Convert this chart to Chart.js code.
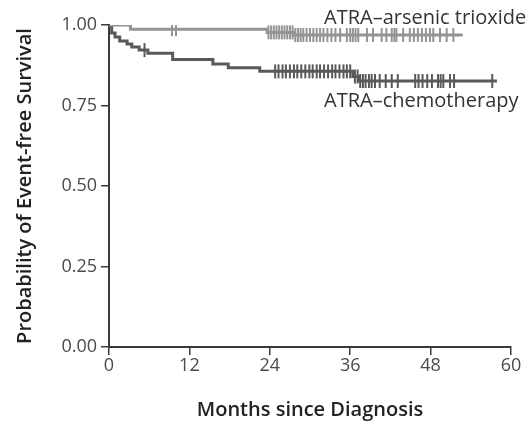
<!DOCTYPE html>
<html>
<head>
<meta charset="utf-8">
<script src="https://cdn.jsdelivr.net/npm/chart.js@4.4.0/dist/chart.umd.min.js"></script>
<style>
  html, body { margin: 0; padding: 0; background: #fff; }
  #wrap { width: 532px; height: 422px; }
</style>
</head>
<body>
<div id="wrap"><canvas id="km"></canvas></div>
<script>
// Kaplan-Meier steps: months and survival probability from that month on
const arsenicTimes = [0, 3.2, 23.6, 27.5, 52.8];
const arsenicSurv = [1.0, 0.987, 0.977, 0.969, 0.969];
const chemoTimes = [0, 0.4, 0.9, 1.6, 2.7, 3.4, 4.5, 5.8, 9.5, 15.5, 17.8, 22.5, 36.4, 37.3, 57.9];
const chemoSurv = [1.0, 0.975, 0.963, 0.95, 0.941, 0.932, 0.922, 0.912, 0.893, 0.879, 0.867, 0.856, 0.84, 0.826, 0.826];

// censored observations (months)
const arsenicCensor = [9.4, 10.0, 23.8, 24.2, 24.6, 25.0, 25.4, 25.8, 26.2, 26.6, 27.0, 27.4, 27.8, 28.2,
  28.6, 29.0, 29.5, 30.0, 30.5, 31.0, 31.5, 32.0, 32.6, 33.2, 33.8, 34.5, 35.5, 36.0, 36.4, 36.8, 37.2,
  38.5, 39.4, 40.7, 41.4, 42.2, 42.6, 42.9, 43.9, 44.9, 45.5, 46.1, 46.7, 47.3, 47.9, 48.4, 49.4, 50.4, 51.4];
const chemoCensor = [5.3, 24.8, 25.3, 25.9, 26.4, 27.0, 27.6, 28.1, 28.7, 29.3, 29.9, 30.4, 31.0, 31.5,
  32.1, 32.7, 33.3, 33.8, 34.4, 35.0, 35.5, 36.0, 36.7, 37.1, 37.5, 37.9, 38.3, 38.8, 39.2, 39.7, 40.4,
  41.3, 42.2, 43.1, 45.7, 46.2, 46.8, 47.5, 48.2, 49.1, 49.5, 49.9, 50.9, 51.5, 57.2];

const xTicks = [0, 12, 24, 36, 48, 60];
const yTicks = [0, 0.25, 0.5, 0.75, 1.0];
const seriesLabels = ["ATRA\u2013arsenic trioxide", "ATRA\u2013chemotherapy"];

const arsenicColor = "#949494";
const chemoColor = "#595959";
const axisColor = "#3a3a3a";
const font = "'Open Sans', 'DejaVu Sans', sans-serif";

const toPoints = (times, surv) => times.map((t, i) => ({ x: t, y: surv[i] }));

// survival value at a given time
const survAt = (times, surv, t) => {
  let v = surv[0];
  times.forEach((tt, i) => { if (tt <= t) v = surv[i]; });
  return v;
};
const censorPoints = (times, surv, cens) => cens.map((t) => ({ x: t, y: survAt(times, surv, t) }));

const labelPlugin = {
  id: "seriesLabels",
  afterDatasetsDraw(chart) {
    const { ctx, scales } = chart;
    ctx.save();
    ctx.font = "20px " + font;
    ctx.fillStyle = "#333";
    ctx.textAlign = "left";
    ctx.textBaseline = "middle";
    ctx.fillText(seriesLabels[0], scales.x.getPixelForValue(32.1), scales.y.getPixelForValue(1.02));
    ctx.fillText(seriesLabels[1], scales.x.getPixelForValue(32.1), scales.y.getPixelForValue(0.764));
    ctx.restore();
  },
};

new Chart(document.getElementById("km"), {
  type: "scatter",
  data: {
    datasets: [
      {
        data: toPoints(arsenicTimes, arsenicSurv),
        showLine: true,
        stepped: true,
        borderColor: arsenicColor,
        borderWidth: 3,
        pointRadius: 0,
      },
      {
        data: toPoints(chemoTimes, chemoSurv),
        showLine: true,
        stepped: true,
        borderColor: chemoColor,
        borderWidth: 3,
        pointRadius: 0,
      },
      {
        data: censorPoints(arsenicTimes, arsenicSurv, arsenicCensor),
        pointStyle: "line",
        rotation: 90,
        pointRadius: 7,
        borderColor: arsenicColor,
        borderWidth: 2,
      },
      {
        data: censorPoints(chemoTimes, chemoSurv, chemoCensor),
        pointStyle: "line",
        rotation: 90,
        pointRadius: 7,
        borderColor: chemoColor,
        borderWidth: 2,
      },
    ],
  },
  options: {
    responsive: true,
    maintainAspectRatio: false,
    animation: false,
    layout: { padding: { left: 0, right: 21, top: 25, bottom: 0 } },
    plugins: { legend: { display: false }, tooltip: { enabled: false } },
    scales: {
      x: {
        type: "linear",
        min: 0,
        max: 60,
        afterBuildTicks: (scale) => { scale.ticks = xTicks.map((v) => ({ value: v })); },
        afterFit: (scale) => { scale.height = 75; },
        ticks: { color: "#4a4a4a", font: { family: font, size: 18 }, padding: 0, maxRotation: 0 },
        grid: { drawOnChartArea: false, drawTicks: true, tickLength: 8, color: axisColor, lineWidth: 1.5 },
        border: { display: true, color: axisColor, width: 2 },
        title: {
          display: true,
          text: "Months since Diagnosis",
          color: "#222",
          font: { family: font, size: 20, weight: "600" },
          padding: { top: 0, bottom: 0 },
        },
      },
      y: {
        min: 0,
        max: 1,
        afterBuildTicks: (scale) => { scale.ticks = yTicks.map((v) => ({ value: v })); },
        afterFit: (scale) => { scale.width = 109; },
        ticks: {
          color: "#4a4a4a",
          font: { family: font, size: 18 },
          padding: 4,
          callback: (v) => v.toFixed(2),
        },
        grid: { drawOnChartArea: false, drawTicks: true, tickLength: 8, color: axisColor, lineWidth: 1.5 },
        border: { display: true, color: axisColor, width: 2 },
        title: {
          display: true,
          text: "Probability of Event-free Survival",
          color: "#222",
          font: { family: font, size: 20, weight: "600" },
          padding: { top: 13, bottom: 0 },
        },
      },
    },
  },
  plugins: [labelPlugin],
});
</script>
</body>
</html>
